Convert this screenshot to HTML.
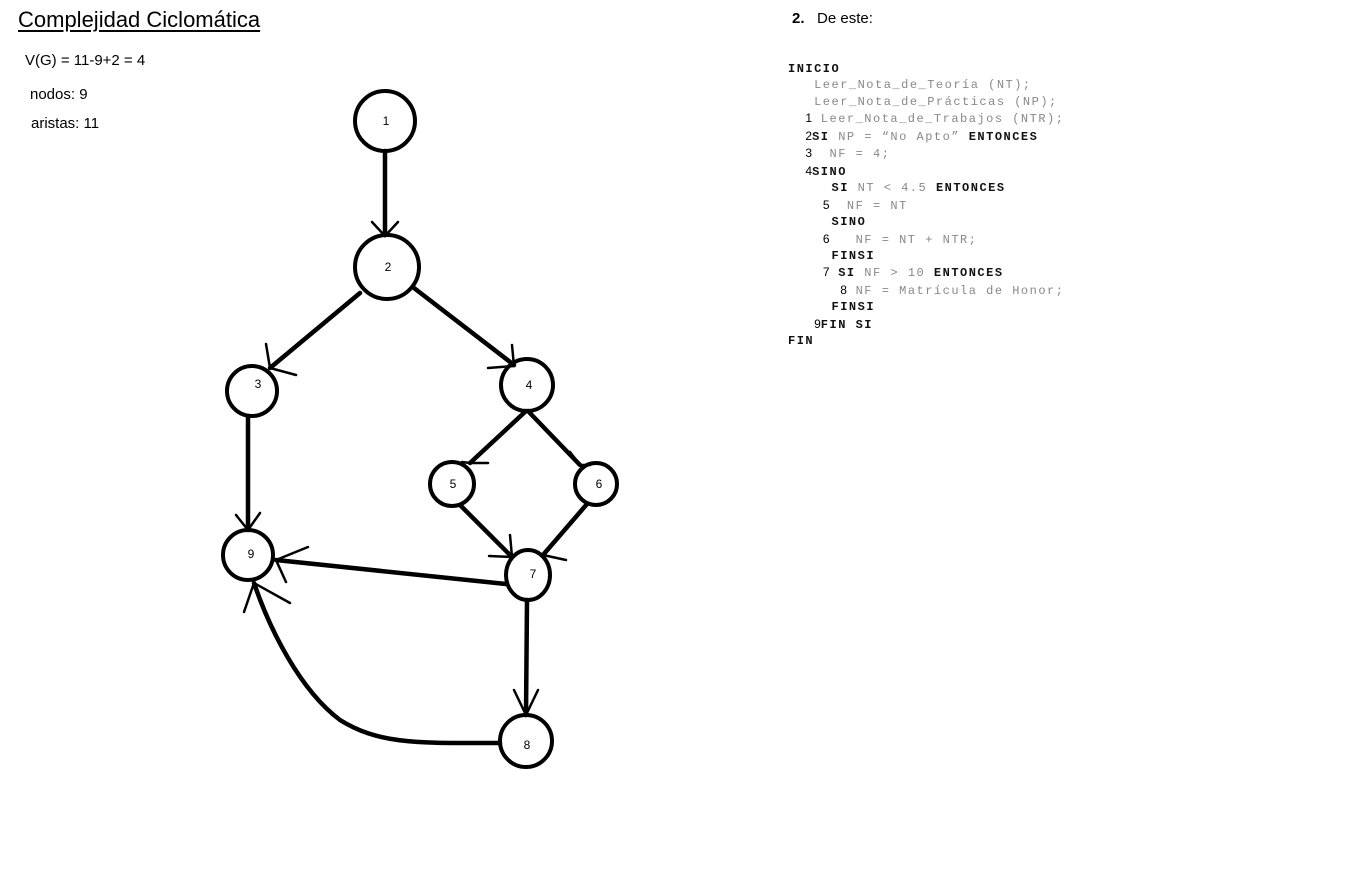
<!DOCTYPE html>
<html><head><meta charset="utf-8"><style>
html,body{margin:0;padding:0;background:#fff;width:1360px;height:880px;overflow:hidden;position:relative;font-family:"Liberation Sans",sans-serif}
.t{position:absolute;color:#000}
.code{position:absolute;left:788px;top:61px;font-family:"Liberation Mono",monospace;font-size:12px;letter-spacing:1.5px;line-height:16.45px;color:#888;white-space:pre}
.code b{color:#111;font-weight:bold}
.code i{font-style:normal;color:#000;font-family:"Liberation Sans",sans-serif;font-size:12px;letter-spacing:0}
</style></head><body>
<div class="t" style="left:18px;top:7px;font-size:22px;text-decoration:underline;text-underline-offset:3px">Complejidad Ciclomática</div>
<div class="t" style="left:25px;top:52px;font-size:15px">V(G) = 11-9+2 = 4</div>
<div class="t" style="left:30px;top:86px;font-size:15px">nodos: 9</div>
<div class="t" style="left:31px;top:115px;font-size:15px">aristas: 11</div>
<div class="t" style="left:792px;top:10px;font-size:15px"><b>2.</b>&nbsp;&nbsp; De este:</div>
<div class="code"><b>INICIO</b>
   Leer_Nota_de_Teoría (NT);
   Leer_Nota_de_Prácticas (NP);
  <i>1</i> Leer_Nota_de_Trabajos (NTR);
  <i>2</i><b>SI</b> NP = “No Apto” <b>ENTONCES</b>
  <i>3</i>  NF = 4;
  <i>4</i><b>SINO</b>
     <b>SI</b> NT &lt; 4.5 <b>ENTONCES</b>
    <i>5</i>  NF = NT
     <b>SINO</b>
    <i>6</i>   NF = NT + NTR;
     <b>FINSI</b>
    <i>7</i> <b>SI</b> NF &gt; 10 <b>ENTONCES</b>
      <i>8</i> NF = Matrícula de Honor;
     <b>FINSI</b>
   <i>9</i><b>FIN SI</b>
<b>FIN</b></div>
<svg width="1360" height="880" style="position:absolute;left:0;top:0" fill="none" stroke="#000" stroke-width="4" stroke-linecap="round">
<g>
<circle cx="385" cy="121" r="30"/>
<circle cx="387" cy="267" r="32"/>
<circle cx="252" cy="391" r="25"/>
<circle cx="527" cy="385" r="26"/>
<circle cx="452" cy="484" r="22"/>
<circle cx="596" cy="484" r="21"/>
<ellipse cx="528" cy="575" rx="22" ry="25"/>
<circle cx="248" cy="555" r="25"/>
<circle cx="526" cy="741" r="26"/>
</g>
<g stroke-width="4.5">
<line x1="385" y1="151" x2="385" y2="235"/>
<line x1="360" y1="293" x2="270" y2="368"/>
<line x1="414" y1="288" x2="514" y2="365"/>
<line x1="248" y1="416" x2="248" y2="530"/>
<line x1="526" y1="411" x2="470" y2="463"/>
<line x1="528" y1="411" x2="580" y2="465"/>
<line x1="460" y1="505" x2="512" y2="557"/>
<line x1="587" y1="504" x2="543" y2="555"/>
<line x1="506" y1="584" x2="276" y2="560"/>
<line x1="527" y1="600" x2="526" y2="715"/>
<path d="M500 743 C420 743 380 745 340 720 C300 690 270 630 254 583"/>
</g>
<g stroke-width="2.5">
<path d="M372 222 L385 236 L398 222"/>
<path d="M266 344 L270 368 L296 375"/>
<path d="M488 368 L514 366 L512 345"/>
<path d="M236 515 L248 530 L260 513"/>
<path d="M462 462 L470 463 L488 463"/>
<path d="M570 452 L580 465 L590 465"/>
<path d="M489 556 L512 557 L510 535"/>
<path d="M543 555 L566 560"/>
<path d="M308 547 L276 560 L286 582"/>
<path d="M514 690 L526 715 L538 690"/>
<path d="M244 612 L254 583 L290 603"/>
</g>
<g fill="#000" stroke="none" font-family="Liberation Sans,sans-serif" font-size="12" text-anchor="middle">
<text x="386" y="125">1</text><text x="388" y="271">2</text><text x="258" y="388">3</text>
<text x="529" y="389">4</text><text x="453" y="488">5</text><text x="599" y="488">6</text>
<text x="533" y="578">7</text><text x="251" y="558">9</text><text x="527" y="749">8</text>
</g>
</svg>
</body></html>
